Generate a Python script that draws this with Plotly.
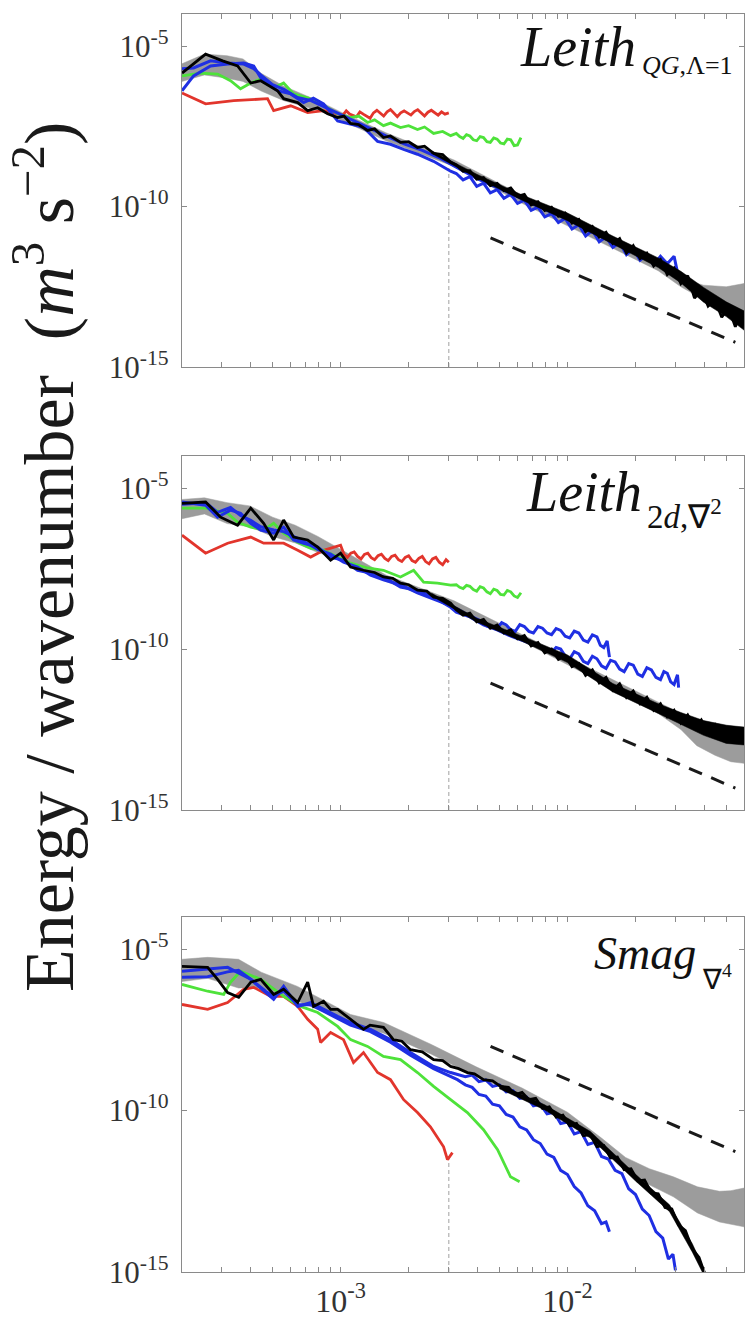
import numpy as np
import plotly.graph_objects as go

# ---------------- data (log10 k, log10 E) ----------------
X_RANGE = (2e-4, 6e-2)
Y_RANGE = (1e-15, 1e-4)
X_TICK_VALS = [2e-4, 3e-4, 4e-4, 5e-4, 6e-4, 7e-4, 8e-4, 9e-4,
               1e-3, 2e-3, 3e-3, 4e-3, 5e-3, 6e-3, 7e-3, 8e-3, 9e-3,
               1e-2, 2e-2, 3e-2, 4e-2, 5e-2, 6e-2]
X_TICK_LABELS = {1e-3: "10<sup>-3</sup>", 1e-2: "10<sup>-2</sup>"}
Y_TICK_VALS = [1e-15, 1e-10, 1e-5]
Y_TICK_TEXT = ["10<sup>-15</sup>", "10<sup>-10</sup>", "10<sup>-5</sup>"]
VLINE_K = 3e-3

PANEL_TITLES = [("Leith", "<i>QG</i>,Λ=1"), ("Leith", "2<i>d</i>,∇<sup>2</sup>"), ("Smag", "∇<sup>4</sup>")]

# ---- panel 1 ----
P1_RED = [(-3.699,-6.46),(-3.595,-6.80),(-3.471,-6.70),(-3.322,-6.64),(-3.295,-7.01),(-3.220,-6.86),(-3.145,-7.07),
          (-3.075,-7.01),(-3.013,-7.11),(-2.99,-7.15),(-2.975,-7.02),(-2.96,-7.12),(-2.93,-7.20),(-2.915,-7.05),
          (-2.90,-7.12),(-2.87,-7.25),(-2.855,-7.08),(-2.84,-7.00),(-2.81,-7.18),(-2.795,-7.05),(-2.78,-6.98),
          (-2.75,-7.20),(-2.735,-7.08),(-2.72,-7.02),(-2.69,-7.15),(-2.675,-7.04),(-2.66,-6.98),(-2.63,-7.18),
          (-2.615,-7.06),(-2.60,-7.00),(-2.57,-7.15),(-2.555,-7.05),(-2.54,-7.12),(-2.523,-7.08)]
P1_GREEN = [(-3.699,-5.93),(-3.617,-5.84),(-3.542,-5.87),(-3.485,-6.08),(-3.441,-6.33),(-3.396,-6.15),(-3.339,-5.99),
            (-3.295,-6.30),(-3.251,-6.15),(-3.207,-6.49),(-3.145,-6.61),(-3.088,-6.80),(-3.013,-7.11),(-2.956,-7.23),
            (-2.92,-7.18),(-2.881,-7.38),(-2.85,-7.30),(-2.811,-7.48),(-2.78,-7.40),(-2.736,-7.54),(-2.70,-7.48),
            (-2.661,-7.60),(-2.63,-7.52),(-2.590,-7.72),(-2.55,-7.66),(-2.515,-7.79),(-2.49,-7.72),
            (-2.475,-7.82),(-2.46,-7.88),(-2.445,-7.76),(-2.43,-7.80),(-2.415,-7.92),(-2.40,-7.95),(-2.385,-7.82),
            (-2.37,-7.85),(-2.355,-7.98),(-2.34,-8.00),(-2.325,-7.86),(-2.31,-7.90),(-2.295,-8.02),(-2.28,-8.05),
            (-2.265,-7.90),(-2.25,-7.92),(-2.235,-8.10),(-2.22,-8.08),(-2.205,-7.85)]
P1_BLUE_A = [(-3.699,-6.39),(-3.648,-5.93),(-3.573,-5.62),(-3.498,-5.56),(-3.427,-5.53),(-3.383,-5.62),(-3.352,-5.99),
             (-3.322,-6.15),(-3.278,-6.39),(-3.220,-6.49),(-3.163,-6.76),(-3.12,-6.62),(-3.075,-6.80),(-3.013,-7.33),
             (-2.956,-7.42),(-2.899,-7.53),(-2.837,-7.97),(-2.780,-8.06),(-2.722,-8.22),(-2.661,-8.37),(-2.590,-8.59),
             (-2.515,-8.90),(-2.49,-8.97),(-2.46,-9.17),(-2.43,-9.07),(-2.40,-9.37),(-2.37,-9.27),(-2.34,-9.57),
             (-2.31,-9.47),(-2.28,-9.74),(-2.25,-9.62),(-2.22,-9.90),(-2.19,-9.80),(-2.16,-10.12),(-2.13,-10.02),
             (-2.10,-10.32),(-2.07,-10.22),(-2.04,-10.50),(-2.01,-10.37),(-1.98,-10.70),(-1.95,-10.57),(-1.92,-10.92),
             (-1.89,-10.74),(-1.86,-11.10),(-1.83,-10.94),(-1.80,-11.27),(-1.77,-11.12),(-1.74,-11.50),(-1.71,-11.32),
             (-1.68,-11.67),(-1.65,-11.50),(-1.62,-11.82),(-1.59,-11.55),(-1.56,-11.78),(-1.53,-11.55),(-1.515,-12.05)]
P1_BLUE_B = [(-3.699,-5.71),(-3.648,-5.68),(-3.573,-5.46),(-3.498,-5.53),(-3.427,-5.56),(-3.383,-5.70),(-3.352,-5.90),
             (-3.30,-6.20),(-3.25,-6.35),(-3.19,-6.60),(-3.13,-6.70),(-3.07,-6.90),(-3.01,-7.10),(-2.95,-7.30),
             (-2.88,-7.55),(-2.80,-7.80),(-2.72,-8.05),(-2.64,-8.25),(-2.56,-8.50),(-2.48,-8.80),(-2.40,-9.12),
             (-2.32,-9.38),(-2.24,-9.62),(-2.16,-9.90),(-2.08,-10.15),(-2.00,-10.40),(-1.92,-10.70),(-1.86,-10.92),
             (-1.82,-11.05)]
P1_BLACK = [(-3.699,-5.84),(-3.595,-5.25),(-3.52,-5.46),(-3.454,-5.62),(-3.396,-6.15),(-3.352,-6.08),(-3.278,-6.39),
            (-3.251,-6.64),(-3.189,-6.76),(-3.145,-7.01),(-3.101,-6.92),(-3.057,-7.11),(-3.013,-7.23),(-2.985,-7.18),
            (-2.956,-7.41),(-2.92,-7.45),(-2.881,-7.63),(-2.85,-7.58),(-2.811,-7.85),(-2.78,-7.80),(-2.736,-8.00),
            (-2.70,-7.98),(-2.661,-8.16),(-2.63,-8.12),(-2.590,-8.34),(-2.55,-8.38),(-2.515,-8.62),
            (-2.49,-8.70),(-2.46,-8.90),(-2.43,-8.88),(-2.40,-9.15),(-2.37,-9.10),(-2.34,-9.35),(-2.31,-9.28),
            (-2.28,-9.50),(-2.25,-9.42),(-2.22,-9.68),(-2.19,-9.62),(-2.16,-9.95),(-2.13,-9.85),(-2.10,-10.12),
            (-2.07,-10.02),(-2.04,-10.30),(-2.01,-10.20),(-1.98,-10.52),(-1.95,-10.40),(-1.92,-10.78),(-1.89,-10.62),
            (-1.86,-10.95),(-1.83,-10.80),(-1.80,-11.15),(-1.77,-11.00),(-1.74,-11.45),(-1.71,-11.22),(-1.68,-11.62),
            (-1.65,-11.45),(-1.62,-11.85),(-1.59,-11.65),(-1.56,-12.12),(-1.53,-11.92),(-1.50,-12.40),(-1.47,-12.15),
            (-1.44,-12.85),(-1.41,-12.60),(-1.38,-13.10),(-1.35,-12.90),(-1.32,-13.45),(-1.29,-13.15),(-1.26,-13.75),
            (-1.24,-13.35),(-1.222,-13.70)]
P1_BLACK_BAND_UP = [(-2.6,-8.26),(-2.4,-8.99),(-2.2,-9.64),(-2.0,-10.20),(-1.8,-10.92),(-1.6,-11.60),(-1.5,-12.02),
                    (-1.4,-12.52),(-1.3,-12.97),(-1.222,-13.25)]
P1_BLACK_BAND_LO = [(-2.6,-8.34),(-2.4,-9.11),(-2.2,-9.80),(-2.0,-10.44),(-1.8,-11.18),(-1.6,-11.90),(-1.5,-12.38),
                    (-1.4,-12.98),(-1.3,-13.43),(-1.222,-13.85)]
P1_GRAY_UP = [(-3.699,-5.55),(-3.6,-5.25),(-3.5,-5.30),(-3.43,-5.40),(-3.35,-5.85),(-3.25,-6.25),(-3.1,-6.70),
              (-3.0,-7.05),(-2.8,-7.70),(-2.5,-8.55),(-2.2,-9.65),(-1.9,-10.70),(-1.6,-11.75),(-1.5,-12.25),
              (-1.4,-12.45),(-1.3,-12.50),(-1.222,-12.40)]
P1_GRAY_LO = [(-3.699,-6.10),(-3.6,-5.90),(-3.5,-6.00),(-3.43,-6.10),(-3.35,-6.40),(-3.25,-6.70),(-3.1,-7.00),
              (-3.0,-7.30),(-2.8,-7.95),(-2.5,-8.75),(-2.2,-9.90),(-1.9,-10.95),(-1.6,-12.00),(-1.5,-12.50),
              (-1.4,-12.90),(-1.3,-13.30),(-1.222,-13.50)]
P1_REF = [(-2.339,-10.98),(-1.26,-14.23)]
P1_VLINE_TOP = -8.8

# ---- panel 2 ----
P2_RED = [(-3.699,-6.46),(-3.595,-7.02),(-3.498,-6.71),(-3.396,-6.52),(-3.339,-6.71),(-3.251,-6.71),(-3.189,-6.93),
          (-3.132,-7.14),(-3.075,-6.93),(-3.0,-6.77),(-2.985,-7.05),(-2.97,-7.15),(-2.955,-7.02),(-2.94,-6.98),
          (-2.925,-7.12),(-2.91,-7.20),(-2.895,-7.06),(-2.88,-7.02),(-2.865,-7.16),(-2.85,-7.22),(-2.835,-7.10),
          (-2.82,-7.05),(-2.805,-7.18),(-2.79,-7.25),(-2.775,-7.12),(-2.76,-7.08),(-2.745,-7.22),(-2.73,-7.28),
          (-2.715,-7.15),(-2.70,-7.10),(-2.685,-7.25),(-2.67,-7.30),(-2.655,-7.18),(-2.64,-7.12),(-2.625,-7.28),
          (-2.61,-7.35),(-2.595,-7.20),(-2.58,-7.15),(-2.565,-7.30),(-2.55,-7.38),(-2.535,-7.22),(-2.523,-7.30)]
P2_GREEN = [(-3.699,-5.62),(-3.595,-5.62),(-3.498,-5.78),(-3.454,-6.06),(-3.396,-6.21),(-3.339,-6.30),(-3.295,-6.09),
            (-3.251,-6.40),(-3.189,-6.68),(-3.132,-6.86),(-3.075,-6.93),(-3.013,-7.14),(-2.956,-7.33),(-2.881,-7.48),
            (-2.811,-7.55),(-2.736,-7.76),(-2.678,-7.55),(-2.634,-7.92),(-2.573,-7.95),(-2.515,-8.01),(-2.49,-8.00),
            (-2.475,-8.08),(-2.46,-8.12),(-2.445,-8.02),(-2.43,-8.05),(-2.415,-8.15),(-2.40,-8.20),(-2.385,-8.06),
            (-2.37,-8.10),(-2.355,-8.22),(-2.34,-8.28),(-2.325,-8.14),(-2.31,-8.18),(-2.295,-8.30),(-2.28,-8.32),
            (-2.265,-8.18),(-2.25,-8.22),(-2.235,-8.35),(-2.22,-8.40),(-2.205,-8.25)]
P2_BLUE_A = [(-3.699,-5.43),(-3.595,-5.53),(-3.542,-5.90),(-3.485,-5.68),(-3.441,-5.78),(-3.396,-6.09),(-3.352,-6.30),
             (-3.295,-6.40),(-3.251,-6.21),(-3.207,-6.61),(-3.163,-6.71),(-3.101,-6.83),(-3.044,-7.14),(-2.987,-7.24),
             (-2.925,-7.55),(-2.868,-7.64),(-2.811,-7.76),(-2.736,-8.07),(-2.661,-8.17),(-2.590,-8.39),(-2.515,-8.70),
             (-2.49,-8.85),(-2.43,-9.00),(-2.37,-9.25),(-2.31,-9.40),(-2.25,-9.60),(-2.19,-9.75),(-2.13,-9.90),
             (-2.10,-10.02),(-2.07,-10.10),(-2.05,-9.95),(-2.03,-10.00),(-2.01,-10.22),(-1.99,-10.30),(-1.97,-10.08),
             (-1.95,-10.15),(-1.93,-10.38),(-1.91,-10.45),(-1.89,-10.22),(-1.87,-10.30),(-1.85,-10.52),(-1.83,-10.60),
             (-1.81,-10.35),(-1.79,-10.40),(-1.77,-10.62),(-1.75,-10.70),(-1.73,-10.45),(-1.71,-10.50),(-1.69,-10.78),
             (-1.67,-10.85),(-1.65,-10.58),(-1.63,-10.65),(-1.61,-10.88),(-1.59,-10.95),(-1.575,-10.70),(-1.56,-10.75),
             (-1.545,-11.02),(-1.53,-11.10),(-1.515,-10.80),(-1.51,-11.20)]
P2_BLUE_B = [(-3.699,-5.50),(-3.595,-5.45),(-3.542,-5.75),(-3.485,-5.60),(-3.441,-5.85),(-3.396,-6.00),(-3.352,-6.20),
             (-3.295,-6.30),(-3.251,-6.35),(-3.207,-6.50),(-3.163,-6.65),(-3.101,-6.90),(-3.044,-7.05),(-2.987,-7.30),
             (-2.925,-7.45),(-2.868,-7.70),(-2.811,-7.85),(-2.736,-8.00),(-2.661,-8.25),(-2.590,-8.45),(-2.515,-8.65),
             (-2.45,-8.90),(-2.39,-9.10),(-2.35,-9.30),(-2.31,-9.35),(-2.29,-9.18),(-2.27,-9.25),(-2.25,-9.40),
             (-2.23,-9.45),(-2.21,-9.24),(-2.19,-9.30),(-2.17,-9.45),(-2.15,-9.50),(-2.13,-9.30),(-2.11,-9.35),
             (-2.09,-9.50),(-2.07,-9.55),(-2.05,-9.36),(-2.03,-9.42),(-2.01,-9.60),(-1.99,-9.65),(-1.97,-9.44),
             (-1.95,-9.50),(-1.93,-9.72),(-1.91,-9.78),(-1.89,-9.56),(-1.87,-9.62),(-1.855,-9.88),(-1.84,-9.95),
             (-1.825,-9.75),(-1.815,-10.25)]
P2_BLACK = [(-3.699,-5.47),(-3.595,-5.43),(-3.529,-5.90),(-3.454,-6.15),(-3.396,-5.62),(-3.339,-6.09),(-3.295,-6.61),
            (-3.251,-5.99),(-3.207,-6.52),(-3.145,-6.61),(-3.101,-6.83),(-3.044,-7.24),(-3.000,-7.02),(-2.956,-7.45),
            (-2.899,-7.55),(-2.85,-7.62),(-2.811,-7.76),(-2.77,-7.80),(-2.736,-7.95),(-2.70,-8.00),(-2.661,-8.17),
            (-2.62,-8.20),(-2.590,-8.39),(-2.55,-8.42),(-2.515,-8.57),
            (-2.49,-8.78),(-2.46,-8.95),(-2.43,-8.88),(-2.40,-9.15),(-2.37,-9.08),(-2.34,-9.35),(-2.31,-9.25),
            (-2.28,-9.50),(-2.25,-9.40),(-2.22,-9.68),(-2.19,-9.58),(-2.16,-9.90),(-2.13,-9.80),(-2.10,-10.12),
            (-2.07,-10.00),(-2.04,-10.32),(-2.01,-10.20),(-1.98,-10.55),(-1.95,-10.45),(-1.92,-10.82),(-1.89,-10.65),
            (-1.86,-11.05),(-1.83,-10.88),(-1.80,-11.28),(-1.77,-11.08),(-1.74,-11.50),(-1.71,-11.30),(-1.68,-11.70),
            (-1.65,-11.50),(-1.62,-11.90),(-1.59,-11.70),(-1.56,-12.10),(-1.53,-11.90),(-1.50,-12.30),(-1.47,-12.05),
            (-1.44,-12.45),(-1.41,-12.20),(-1.38,-12.60),(-1.35,-12.35),(-1.32,-12.80),(-1.29,-12.45),(-1.26,-12.90),
            (-1.24,-12.55),(-1.222,-12.80)]
P2_BLACK_BAND_UP = [(-2.6,-8.26),(-2.4,-9.04),(-2.2,-9.60),(-2.0,-10.18),(-1.8,-11.07),(-1.6,-11.70),(-1.5,-11.97),
                    (-1.4,-12.22),(-1.3,-12.37),(-1.222,-12.42)]
P2_BLACK_BAND_LO = [(-2.6,-8.34),(-2.4,-9.16),(-2.2,-9.76),(-2.0,-10.42),(-1.8,-11.33),(-1.6,-12.00),(-1.5,-12.33),
                    (-1.4,-12.68),(-1.3,-12.93),(-1.222,-12.98)]
P2_GRAY_UP = [(-3.699,-5.35),(-3.6,-5.30),(-3.5,-5.45),(-3.4,-5.55),(-3.3,-5.90),(-3.2,-6.15),(-3.1,-6.50),
              (-3.0,-6.90),(-2.8,-7.70),(-2.5,-8.50),(-2.2,-9.55),(-1.9,-10.60),(-1.6,-11.65),(-1.5,-12.00),
              (-1.43,-12.20),(-1.35,-12.30),(-1.28,-12.40),(-1.222,-12.45)]
P2_GRAY_LO = [(-3.699,-5.95),(-3.6,-5.80),(-3.5,-6.10),(-3.4,-6.20),(-3.3,-6.50),(-3.2,-6.70),(-3.1,-7.00),
              (-3.0,-7.20),(-2.8,-7.90),(-2.5,-8.70),(-2.2,-9.75),(-1.9,-10.85),(-1.6,-12.00),(-1.5,-12.50),
              (-1.43,-13.00),(-1.35,-13.30),(-1.28,-13.50),(-1.222,-13.55)]
P2_REF = [(-2.339,-11.06),(-1.26,-14.32)]
P2_VLINE_TOP = -8.7

# ---- panel 3 ----
P3_RED = [(-3.699,-6.71),(-3.586,-6.86),(-3.498,-6.65),(-3.427,-6.24),(-3.383,-6.18),(-3.308,-6.46),(-3.251,-6.46),
          (-3.189,-6.77),(-3.145,-7.17),(-3.101,-7.48),(-3.088,-7.89),(-3.044,-7.58),(-2.987,-7.80),(-2.943,-8.51),
          (-2.899,-8.20),(-2.837,-8.82),(-2.780,-9.04),(-2.722,-9.66),(-2.661,-10.06),(-2.604,-10.50),(-2.546,-11.12),
          (-2.529,-11.52),(-2.507,-11.30)]
P3_GREEN = [(-3.699,-6.09),(-3.586,-6.30),(-3.515,-6.40),(-3.485,-6.02),(-3.441,-5.68),(-3.352,-5.93),(-3.251,-6.46),
            (-3.176,-6.77),(-3.101,-6.96),(-3.013,-7.39),(-2.956,-7.80),(-2.881,-8.01),(-2.811,-8.32),(-2.736,-8.42),
            (-2.661,-8.82),(-2.590,-9.25),(-2.515,-9.66),(-2.441,-10.06),(-2.370,-10.59),(-2.308,-11.21),
            (-2.251,-12.05),(-2.211,-12.20)]
P3_BLUE_A = [(-3.699,-5.68),(-3.586,-5.62),(-3.498,-5.56),(-3.396,-5.93),(-3.295,-6.55),(-3.251,-6.15),(-3.189,-6.77),
             (-3.132,-6.65),(-3.075,-6.86),(-3.013,-7.08),(-2.956,-7.27),(-2.868,-7.48),(-2.780,-7.80),(-2.692,-8.20),
             (-2.590,-8.63),(-2.515,-8.82),(-2.45,-8.95),(-2.42,-8.90),(-2.39,-9.10),(-2.36,-9.05),(-2.33,-9.25),
             (-2.30,-9.20),(-2.27,-9.42),(-2.24,-9.38),(-2.21,-9.62),(-2.18,-9.58),(-2.15,-9.85),(-2.12,-9.80),
             (-2.09,-10.10),(-2.06,-10.05),(-2.03,-10.40),(-2.00,-10.35),(-1.97,-10.72),(-1.94,-10.65),(-1.91,-11.05),
             (-1.88,-10.98),(-1.85,-11.42),(-1.82,-11.50),(-1.79,-11.85),(-1.76,-11.95),(-1.73,-12.42),(-1.70,-12.60),
             (-1.67,-13.05),(-1.64,-13.25),(-1.61,-13.75),(-1.58,-13.95),(-1.555,-14.60),(-1.535,-14.45),(-1.524,-14.95)]
P3_BLUE_B = [(-3.699,-5.87),(-3.586,-5.85),(-3.498,-5.70),(-3.45,-5.65),(-3.396,-5.93),(-3.33,-6.30),(-3.295,-6.45),
             (-3.251,-6.30),(-3.189,-6.72),(-3.132,-6.72),(-3.075,-6.92),(-3.013,-7.15),(-2.956,-7.35),(-2.868,-7.55),
             (-2.780,-7.88),(-2.692,-8.28),(-2.590,-8.70),(-2.485,-9.04),(-2.45,-9.20),(-2.42,-9.28),(-2.39,-9.50),
             (-2.36,-9.55),(-2.33,-9.80),(-2.30,-9.85),(-2.27,-10.12),(-2.24,-10.20),(-2.21,-10.50),(-2.18,-10.60),
             (-2.15,-10.90),(-2.12,-11.02),(-2.09,-11.35),(-2.06,-11.45),(-2.03,-11.85),(-2.00,-11.98),(-1.97,-12.35),
             (-1.94,-12.55),(-1.91,-12.95),(-1.88,-13.10),(-1.85,-13.50),(-1.83,-13.45),(-1.815,-13.75)]
P3_BLACK = [(-3.699,-5.53),(-3.586,-5.56),(-3.542,-5.93),(-3.498,-6.34),(-3.449,-6.49),(-3.396,-6.02),(-3.352,-5.93),
            (-3.295,-6.40),(-3.251,-6.24),(-3.189,-6.65),(-3.145,-6.02),(-3.119,-6.77),(-3.075,-6.61),(-3.044,-6.86),
            (-3.013,-6.86),(-2.956,-7.17),(-2.899,-7.48),(-2.87,-7.35),(-2.811,-7.42),(-2.767,-7.80),(-2.73,-7.85),
            (-2.692,-8.11),(-2.64,-8.18),(-2.590,-8.42),(-2.55,-8.45),(-2.515,-8.63),(-2.48,-8.70),(-2.441,-8.82),
            (-2.41,-8.86),(-2.370,-9.04),(-2.33,-9.08),(-2.295,-9.25),
            (-2.26,-9.28),(-2.23,-9.50),(-2.20,-9.43),(-2.17,-9.66),(-2.14,-9.62),(-2.11,-9.93),(-2.08,-9.88),
            (-2.05,-10.20),(-2.02,-10.14),(-1.99,-10.47),(-1.96,-10.40),(-1.93,-10.78),(-1.90,-10.74),(-1.87,-11.12),
            (-1.84,-11.08),(-1.81,-11.47),(-1.78,-11.44),(-1.75,-11.83),(-1.72,-11.80),(-1.69,-12.18),(-1.66,-12.15),
            (-1.63,-12.55),(-1.60,-12.58),(-1.57,-13.00),(-1.54,-13.05),(-1.51,-13.55),(-1.48,-13.72),(-1.45,-14.28),
            (-1.42,-14.55),(-1.40,-14.95),(-1.385,-15.20)]
P3_BLACK_BAND_UP = [(-2.3,-9.18),(-2.1,-9.82),(-1.9,-10.64),(-1.7,-11.97),(-1.55,-12.92),(-1.45,-14.12),(-1.40,-14.87)]
P3_BLACK_BAND_LO = [(-2.3,-9.32),(-2.1,-9.98),(-1.9,-10.84),(-1.7,-12.18),(-1.55,-13.13),(-1.45,-14.38),(-1.40,-15.08)]
P3_GRAY_UP = [(-3.699,-5.31),(-3.586,-5.25),(-3.45,-5.31),(-3.35,-5.71),(-3.19,-6.15),(-2.956,-7.02),(-2.81,-7.27),
              (-2.6,-7.95),(-2.4,-8.65),(-2.2,-9.30),(-2.0,-10.05),(-1.85,-10.85),(-1.744,-11.45),(-1.639,-11.80),
              (-1.533,-12.05),(-1.427,-12.36),(-1.33,-12.50),(-1.28,-12.48),(-1.222,-12.40)]
P3_GRAY_LO = [(-3.699,-6.00),(-3.586,-5.90),(-3.45,-6.20),(-3.35,-6.20),(-3.19,-6.60),(-2.956,-7.30),(-2.81,-7.60),
              (-2.6,-8.25),(-2.4,-8.95),(-2.2,-9.55),(-2.0,-10.35),(-1.85,-11.10),(-1.744,-11.85),(-1.639,-12.30),
              (-1.533,-12.67),(-1.427,-13.17),(-1.33,-13.45),(-1.222,-13.60)]
P3_REF = [(-2.339,-8.01),(-1.26,-11.27)]
P3_VLINE_TOP = -11.4

PANELS = [
    dict(red=P1_RED, green=P1_GREEN, blues=[P1_BLUE_B, P1_BLUE_A], black=P1_BLACK,
         bup=P1_BLACK_BAND_UP, blo=P1_BLACK_BAND_LO,
         gup=P1_GRAY_UP, glo=P1_GRAY_LO, ref=P1_REF, vtop=P1_VLINE_TOP),
    dict(red=P2_RED, green=P2_GREEN, blues=[P2_BLUE_B, P2_BLUE_A], black=P2_BLACK,
         bup=P2_BLACK_BAND_UP, blo=P2_BLACK_BAND_LO,
         gup=P2_GRAY_UP, glo=P2_GRAY_LO, ref=P2_REF, vtop=P2_VLINE_TOP),
    dict(red=P3_RED, green=P3_GREEN, blues=[P3_BLUE_B, P3_BLUE_A], black=P3_BLACK,
         bup=P3_BLACK_BAND_UP, blo=P3_BLACK_BAND_LO,
         gup=P3_GRAY_UP, glo=P3_GRAY_LO, ref=P3_REF, vtop=P3_VLINE_TOP),
]

# ---------------- styling ----------------
RED = "#e2352c"
GREEN = "#4ee23a"
BLUE = "#1f2fe3"
BLACK = "#000000"
GRAY = "#9c9c9c"
AX = "#8a8a8a"
SERIF = "Liberation Serif"

W, H = 753, 1332
ML, MR, MT, MB = 182, 9, 14, 60
PH = H - MT - MB
PANEL_PX = [(14, 367), (456, 810), (917, 1272)]   # top/bottom pixel rows of each box


def py2paper(py):
    return 1 - (py - MT) / PH


def px2paper(px):
    return (px - ML) / (W - ML - MR)


def xy(pairs):
    a = np.array(pairs, dtype=float)
    return 10 ** a[:, 0], 10 ** a[:, 1]


def band(up, lo, color, xr, yr):
    xu, yu = xy(up)
    xl, yl = xy(lo)
    return go.Scatter(x=np.concatenate([xu, xl[::-1]]), y=np.concatenate([yu, yl[::-1]]),
                      fill="toself", fillcolor=color, line=dict(width=0.5, color=color),
                      mode="lines", xaxis=xr, yaxis=yr, hoverinfo="skip")


fig = go.Figure()

for i, p in enumerate(PANELS):
    n = "" if i == 0 else str(i + 1)
    xr, yr = "x" + n, "y" + n
    fig.add_trace(band(p["gup"], p["glo"], GRAY, xr, yr))
    fig.add_trace(go.Scatter(x=[VLINE_K, VLINE_K], y=[Y_RANGE[0], 10 ** p["vtop"]], mode="lines",
                             line=dict(color="#a0a0a0", width=1, dash="4px,3px"), xaxis=xr, yaxis=yr))
    for key, col in (("red", RED), ("green", GREEN)):
        x, y = xy(p[key])
        fig.add_trace(go.Scatter(x=x, y=y, mode="lines", line=dict(color=col, width=2.8),
                                 xaxis=xr, yaxis=yr))
    for b in p["blues"]:
        x, y = xy(b)
        fig.add_trace(go.Scatter(x=x, y=y, mode="lines", line=dict(color=BLUE, width=3),
                                 xaxis=xr, yaxis=yr))
    fig.add_trace(band(p["bup"], p["blo"], BLACK, xr, yr))
    x, y = xy(p["black"])
    fig.add_trace(go.Scatter(x=x, y=y, mode="lines", line=dict(color=BLACK, width=2.8),
                             xaxis=xr, yaxis=yr))
    x, y = xy(p["ref"])
    fig.add_trace(go.Scatter(x=x, y=y, mode="lines", line=dict(color="#1a1a1a", width=3, dash="14px,10px"),
                             xaxis=xr, yaxis=yr))

    top, bot = PANEL_PX[i]
    last = i == len(PANELS) - 1
    fig.update_layout({
        "xaxis" + n: dict(type="log", range=[np.log10(X_RANGE[0]), np.log10(X_RANGE[1])], domain=[0, 1],
                          anchor="y" + n, showline=True, linecolor=AX, linewidth=1.3, mirror="ticks",
                          ticks="inside", ticklen=5, tickcolor=AX, tickwidth=1,
                          tickvals=X_TICK_VALS,
                          ticktext=[X_TICK_LABELS.get(v, "") if last else "" for v in X_TICK_VALS],
                          showgrid=False, zeroline=False,
                          tickfont=dict(family=SERIF, size=32, color="#333333")),
        "yaxis" + n: dict(type="log", range=[np.log10(Y_RANGE[0]), np.log10(Y_RANGE[1])],
                          domain=[py2paper(bot), py2paper(top)], anchor="x" + n,
                          showline=True, linecolor=AX, linewidth=1.3, mirror="ticks",
                          ticks="inside", ticklen=5, tickcolor=AX, tickvals=Y_TICK_VALS, ticktext=Y_TICK_TEXT,
                          showgrid=False, zeroline=False, ticklabelstandoff=6,
                          tickfont=dict(family=SERIF, size=31, color="#333333")),
    })

# panel titles: (main right x, main centre y, sub left x, sub centre y, main size, sub size)
TITLE_POS = [(638, 47, 640, 65, 56, 26), (644, 492, 645, 514, 56, 33), (698, 953, 700, 978, 46, 28)]
for (main, sub), (mx, my, sx, sy, ms, ss) in zip(PANEL_TITLES, TITLE_POS):
    fig.add_annotation(text="<i>%s</i>" % main, x=px2paper(mx), y=py2paper(my), xref="paper", yref="paper",
                       xanchor="right", yanchor="middle", showarrow=False,
                       font=dict(family=SERIF, size=ms, color="#111111"))
    fig.add_annotation(text=sub, x=px2paper(sx), y=py2paper(sy), xref="paper", yref="paper",
                       xanchor="left", yanchor="middle", showarrow=False,
                       font=dict(family=SERIF, size=ss, color="#111111"))

# shared y-axis title
fig.add_annotation(text="Energy / wavenumber\u00a0\u00a0(<i>m</i><sup>3</sup> s<sup>\u22122</sup>)",
                   x=px2paper(44), y=py2paper(557), xref="paper", yref="paper", textangle=-90,
                   xanchor="center", yanchor="middle", showarrow=False,
                   font=dict(family=SERIF, size=70, color="#1a1a1a"))

fig.update_layout(width=W, height=H, margin=dict(l=ML, r=MR, t=MT, b=MB),
                  paper_bgcolor="white", plot_bgcolor="white", showlegend=False)

fig.write_html("out.html")
